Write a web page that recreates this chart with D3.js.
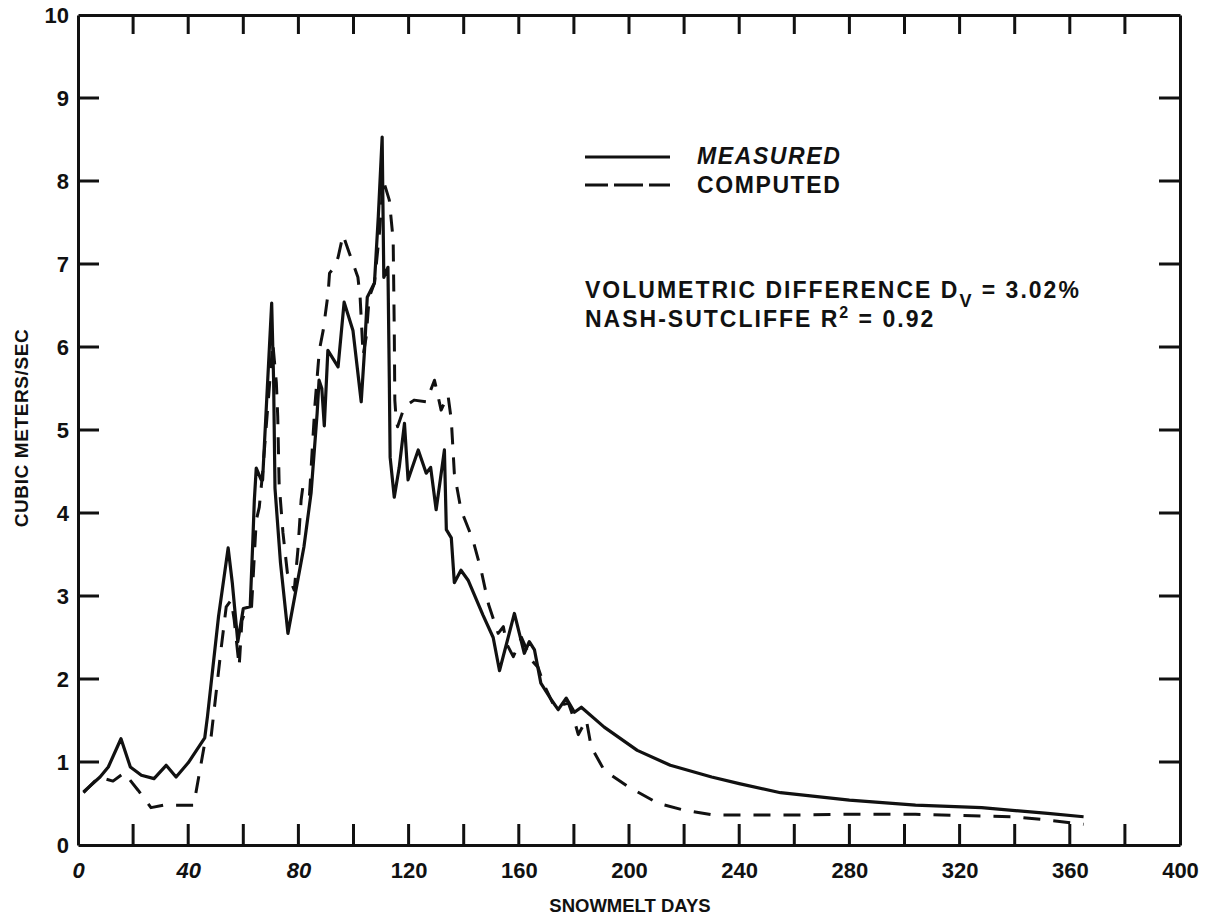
<!DOCTYPE html>
<html>
<head>
<meta charset="utf-8">
<script src="https://cdn.jsdelivr.net/npm/d3@7"></script>
<style>
  body { margin: 0; background: #fff; }
  svg text { font-family: "Liberation Sans", Arial, sans-serif; font-weight: bold; fill: #111; }
</style>
</head>
<body>
<div id="chart"></div>
<script>
'use strict';

// Data: [snowmelt day, cubic metres per second]
const measured = [
  [2, 0.64], [8, 0.82], [11, 0.94], [15.6, 1.28], [19, 0.94], [23, 0.84], [27.6, 0.8],
  [32, 0.96], [35.6, 0.82], [40, 0.99], [46, 1.29], [47, 1.55], [51, 2.75], [54.5, 3.58],
  [56, 3.16], [58, 2.45], [60, 2.85], [62.5, 2.87], [63.5, 3.7], [64, 4.15], [64.7, 4.54],
  [66.5, 4.4], [67, 4.4], [70.3, 6.53], [71, 5.6], [71.5, 4.3], [73.5, 3.4], [76.2, 2.55],
  [82, 3.59], [84.6, 4.24], [86.8, 5.2], [87.5, 5.6], [88.5, 5.5], [89.4, 5.05], [90.7, 5.96],
  [94.4, 5.76], [96.6, 6.54], [99.8, 6.2], [102.8, 5.34], [104, 5.96], [105, 6.6], [107.6, 6.77],
  [109, 7.57], [110.4, 8.53], [111, 6.84], [112.5, 6.96], [113, 5.6], [113.3, 4.67], [114.8, 4.19],
  [116.6, 4.55], [118.5, 5.08], [119.8, 4.4], [123.5, 4.76], [126.4, 4.48], [128, 4.55], [130, 4.04],
  [133, 4.76], [133.7, 3.8], [135.5, 3.7], [136.6, 3.16], [139, 3.31], [141.6, 3.19], [147, 2.77],
  [150.7, 2.5], [153, 2.1], [158.4, 2.79], [162, 2.31], [163.8, 2.45], [165.7, 2.35], [168, 1.95],
  [171.8, 1.75], [174.3, 1.63], [177.2, 1.77], [180.2, 1.6], [182.7, 1.66], [191, 1.42], [203, 1.14],
  [215, 0.96], [230, 0.82], [240, 0.74], [255, 0.63], [280, 0.54], [304, 0.48], [328, 0.45],
  [352, 0.38], [365, 0.34]
];

const computed = [
  [2, 0.63], [7.6, 0.82], [12.7, 0.77], [16.8, 0.87], [21.8, 0.66], [26.5, 0.45], [31, 0.48],
  [42, 0.48], [46, 1.23], [48.3, 1.3], [52, 2.38], [53.8, 2.87], [55.6, 2.95], [56.7, 2.71],
  [58.5, 2.15], [59.5, 2.7], [61, 2.85], [63, 2.87], [64.7, 3.91], [65.8, 4.07], [67, 4.48],
  [70.7, 6.05], [72, 5.57], [72.5, 5.16], [73, 4.36], [74.4, 3.76], [76, 3.28], [78.5, 3.07],
  [79.8, 3.55], [81, 4.16], [81.6, 4.31], [84, 4.2], [86, 5.3], [87.6, 5.96], [89, 6.2],
  [90.8, 6.65], [91.3, 6.89], [93, 6.96], [94.4, 7.08], [96.2, 7.35], [98.5, 7.13], [101.6, 6.84],
  [102.4, 6.6], [103.5, 5.9], [104.6, 6.12], [105.7, 6.6], [107.6, 6.77], [109.4, 7.37],
  [110.8, 8.01], [113, 7.77], [114.4, 7.29], [114.8, 6.2], [115, 5.36], [115.5, 5.12], [116, 5.04],
  [118.5, 5.28], [122, 5.36], [126.4, 5.34], [129.4, 5.6], [131.8, 5.24], [134.3, 5.42],
  [135.5, 5.12], [136.6, 4.48], [139, 4.04], [143.4, 3.67], [146.4, 3.3], [149, 2.9], [152.5, 2.55],
  [154.4, 2.63], [155.5, 2.43], [158, 2.27], [161, 2.5], [164.5, 2.23], [167, 2.14], [168.9, 1.95],
  [173, 1.66], [178, 1.71], [179.8, 1.54], [181.6, 1.33], [184.5, 1.51], [186.3, 1.18], [191, 0.9],
  [199.8, 0.7], [210.7, 0.5], [220, 0.42], [231, 0.36], [255, 0.36], [280, 0.37], [304, 0.37],
  [328, 0.35], [340, 0.34], [352, 0.3], [365, 0.25]
];

const xTicks = d3.range(0, 401, 20);
const xLabels = d3.range(0, 401, 40);
const italicLabels = [0, 40, 80];
const yTicks = d3.range(0, 11, 1);

const legendItems = ['MEASURED', 'COMPUTED'];

// Page and plot frame
const width = 1207, height = 920;
const plotLeft = 78, plotRight = 1180, plotTop = 15, plotBottom = 845;
const tickLen = 21;

const svg = d3.select('#chart').append('svg')
  .attr('width', width).attr('height', height);

const x = d3.scaleLinear().domain([0, 400]).range([plotLeft, plotRight]);
const y = d3.scaleLinear().domain([0, 10]).range([plotBottom, plotTop]);

// Axes: labels from d3 axes, frame drawn as the domains
function styleAxis(g) {
  g.select('.domain').attr('stroke', '#111').attr('stroke-width', 3);
  g.selectAll('.tick line').remove();
  g.selectAll('.tick text')
    .attr('font-size', 22).attr('font-family', '"Liberation Sans", Arial, sans-serif')
    .attr('font-weight', 'bold').attr('fill', '#111');
}

svg.append('g')
  .attr('transform', `translate(0,${plotBottom})`)
  .call(d3.axisBottom(x).tickValues(xLabels).tickSize(0).tickPadding(17))
  .call(styleAxis)
  .call(g => g.selectAll('.tick text')
    .attr('font-style', d => italicLabels.includes(d) ? 'italic' : 'normal'));

svg.append('g')
  .attr('transform', `translate(0,${plotTop})`)
  .call(d3.axisTop(x).tickValues([]).tickSize(0))
  .call(styleAxis);

svg.append('g')
  .attr('transform', `translate(${plotLeft},0)`)
  .call(d3.axisLeft(y).tickValues(yTicks).tickSize(0).tickPadding(9))
  .call(styleAxis);

svg.append('g')
  .attr('transform', `translate(${plotRight},0)`)
  .call(d3.axisRight(y).tickValues([]).tickSize(0))
  .call(styleAxis);

// Inward tick marks on all four sides
const ticks = svg.append('g');
function tickStyle(sel) {
  sel.attr('stroke', '#111').attr('stroke-width', 3);
}
ticks.selectAll('line.xb').data(xTicks.slice(1, -1)).join('line').classed('xb', true)
  .attr('x1', d => x(d)).attr('x2', d => x(d))
  .attr('y1', plotBottom).attr('y2', plotBottom - tickLen).call(tickStyle);
ticks.selectAll('line.xt').data(xTicks.slice(1, -1)).join('line').classed('xt', true)
  .attr('x1', d => x(d)).attr('x2', d => x(d))
  .attr('y1', plotTop).attr('y2', plotTop + tickLen - 2).call(tickStyle);
ticks.selectAll('line.yl').data(yTicks.slice(1, -1)).join('line').classed('yl', true)
  .attr('y1', d => y(d)).attr('y2', d => y(d))
  .attr('x1', plotLeft).attr('x2', plotLeft + tickLen).call(tickStyle);
ticks.selectAll('line.yr').data(yTicks.slice(1, -1)).join('line').classed('yr', true)
  .attr('y1', d => y(d)).attr('y2', d => y(d))
  .attr('x1', plotRight).attr('x2', plotRight - tickLen).call(tickStyle);

// Axis titles
svg.append('text')
  .attr('x', 630).attr('y', 912)
  .attr('text-anchor', 'middle').attr('font-size', 18.5)
  .text('SNOWMELT DAYS');

svg.append('text')
  .attr('transform', 'translate(28,428) rotate(-90)')
  .attr('text-anchor', 'middle').attr('font-size', 19).attr('letter-spacing', 0.6)
  .text('CUBIC METERS/SEC');

// Series
const lineGen = d3.line().x(d => x(d[0])).y(d => y(d[1]));

svg.append('path')
  .datum(computed)
  .attr('d', lineGen)
  .attr('fill', 'none').attr('stroke', '#111').attr('stroke-width', 3)
  .attr('stroke-dasharray', '17,13').attr('stroke-linejoin', 'round');

svg.append('path')
  .datum(measured)
  .attr('d', lineGen)
  .attr('fill', 'none').attr('stroke', '#111').attr('stroke-width', 3.2)
  .attr('stroke-linejoin', 'round');

// Legend
const legend = svg.append('g').attr('transform', 'translate(585,157)');
legend.append('line').attr('x1', 0).attr('x2', 85).attr('y1', 0).attr('y2', 0)
  .attr('stroke', '#111').attr('stroke-width', 3);
legend.append('line').attr('x1', 0).attr('x2', 85).attr('y1', 28).attr('y2', 28)
  .attr('stroke', '#111').attr('stroke-width', 3).attr('stroke-dasharray', '23,6,29,6,22');
legend.selectAll('text.item')
  .data(legendItems)
  .join('text')
  .classed('item', true)
  .attr('x', 112).attr('y', (d, i) => 7 + i * 29)
  .attr('font-size', 23).attr('letter-spacing', 1.6)
  .attr('font-style', (d, i) => i === 0 ? 'italic' : 'normal')
  .text(d => d);

// Fit statistics
const stats = svg.append('g').attr('font-size', 23).attr('letter-spacing', 2);
const t1 = stats.append('text').attr('x', 585).attr('y', 298);
t1.append('tspan').text('VOLUMETRIC DIFFERENCE D');
t1.append('tspan').attr('dy', 9).attr('font-size', 18).text('V');
t1.append('tspan').attr('dy', -9).text(' = 3.02%');

const t2 = stats.append('text').attr('x', 585).attr('y', 327);
t2.append('tspan').text('NASH-SUTCLIFFE R');
t2.append('tspan').attr('dy', -9).attr('font-size', 16).text('2');
t2.append('tspan').attr('dy', 9).text(' = 0.92');
</script>
</body>
</html>
